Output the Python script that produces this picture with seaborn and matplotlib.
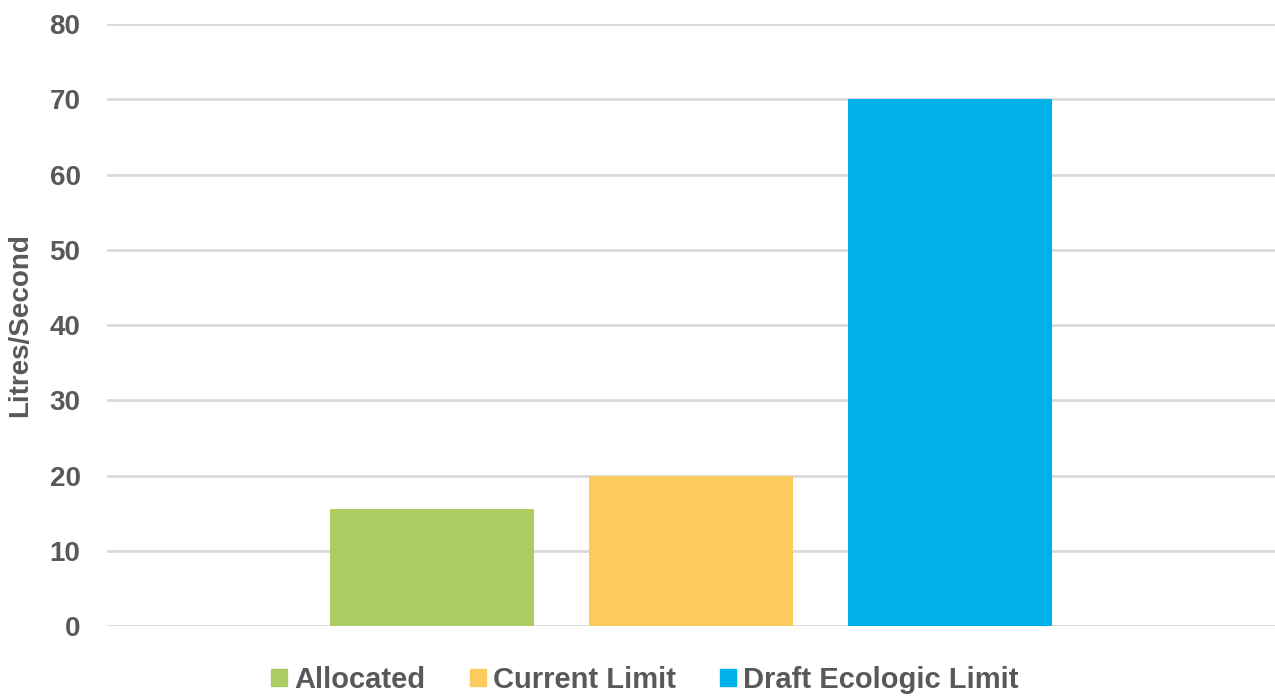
import matplotlib
matplotlib.use("Agg")
import matplotlib.pyplot as plt
import seaborn as sns
import pandas as pd

# Flow values (litres per second)
series = ["Allocated", "Current Limit", "Draft Ecologic Limit"]
values = [15.5, 20.0, 70.0]
colors = ["#a9cc63", "#fbcb5f", "#00b0e8"]
y_ticks = [0, 10, 20, 30, 40, 50, 60, 70, 80]

df = pd.DataFrame({"group": [""] * len(series), "series": series, "value": values})

sns.set_theme(style="white")
plt.rcParams["font.family"] = ["Liberation Sans", "DejaVu Sans"]

fig = plt.figure(figsize=(12.75, 6.97), dpi=100)
ax = fig.add_axes([107 / 1275, 1 - 626 / 697, (1275 - 107) / 1275, (626 - 24) / 697])

sns.barplot(data=df, x="group", y="value", hue="series", hue_order=series,
            palette=colors, width=0.665, gap=0.21, saturation=1, ax=ax,
            legend=False, edgecolor="none")

ax.set_xlim(-0.5, 0.5)
ax.set_ylim(0, 80)
ax.set_yticks(y_ticks)
ax.set_yticklabels([str(t) for t in y_ticks], fontsize=20, fontweight="bold", color="#595959")
ax.tick_params(axis="y", length=0, pad=19)
ax.set_xticks([])
ax.set_xlabel("")
ax.set_ylabel("Litres/Second", fontsize=20, fontweight="bold", color="#595959", labelpad=12)
ax.yaxis.grid(True, color="#d9d9d9", linewidth=2)
ax.set_axisbelow(True)
for s in ax.spines.values():
    s.set_visible(False)

handles = [plt.Rectangle((0, 0), 1, 1, color=c) for c in colors]
fig.legend(handles, series, loc="center", bbox_to_anchor=(645 / 1275, 1 - 680 / 697),
           ncol=3, frameon=False, handlelength=0.55, handleheight=0.55, handletextpad=0.25,
           columnspacing=1.5, borderpad=0, borderaxespad=0,
           prop={"size": 21, "weight": "bold"}, labelcolor="#595959")

fig.savefig("out.png", dpi=100)
